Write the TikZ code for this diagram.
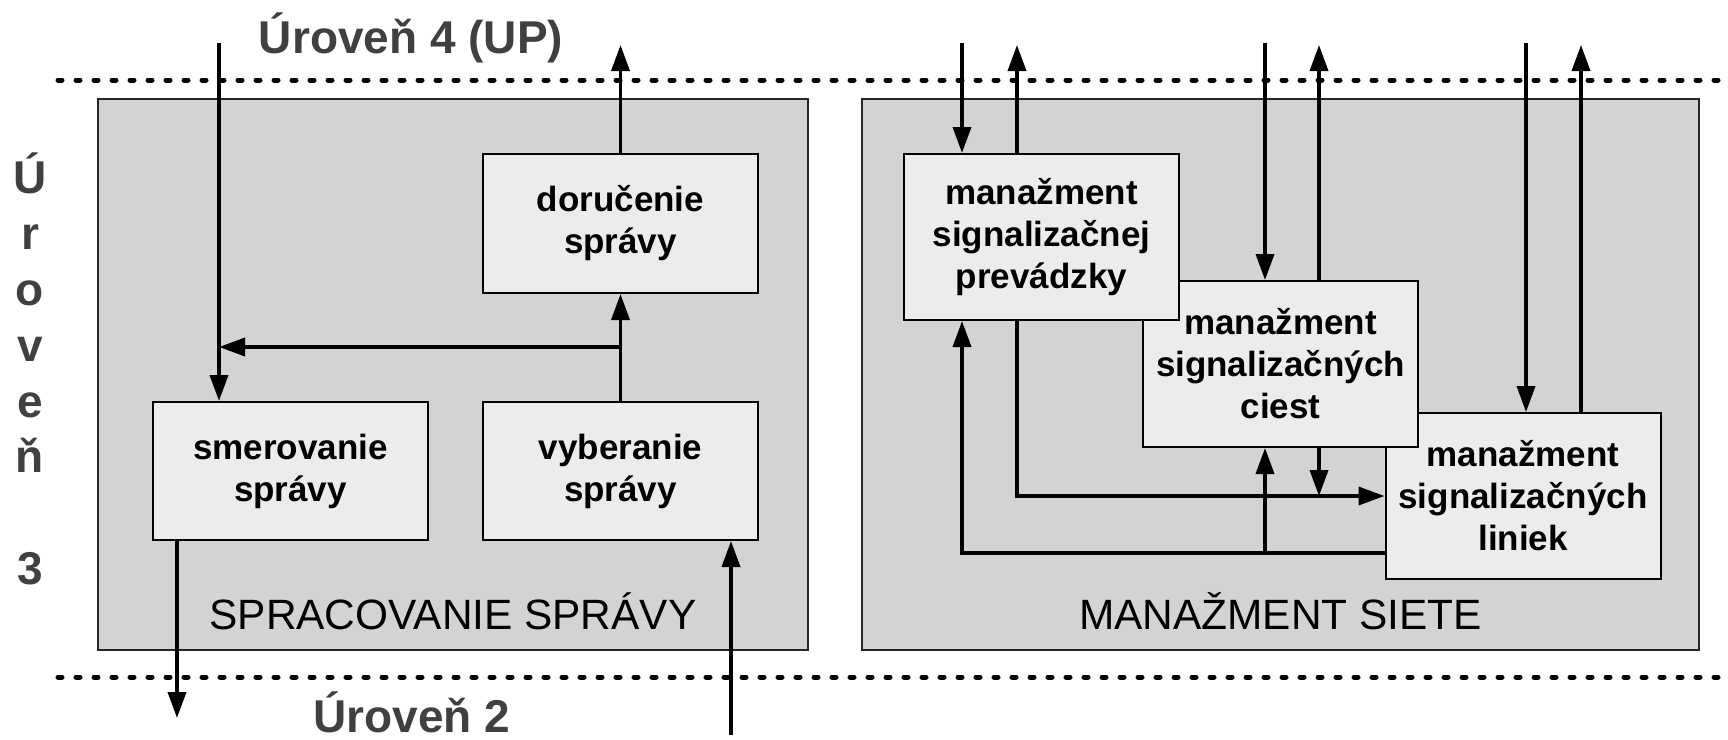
\documentclass[tikz,border=0pt]{standalone}
\usepackage{fontspec}
\setmainfont{Liberation Sans}
\usepackage{tikz}
\usetikzlibrary{arrows.meta}
\definecolor{outerfill}{RGB}{211,211,211}
\definecolor{innerfill}{RGB}{236,236,236}
\definecolor{lvlgray}{RGB}{64,64,64}
\tikzstyle{group} = [rectangle, draw=black!85, line width=1pt, fill=outerfill, inner sep=0pt]
\tikzstyle{block} = [rectangle, minimum width=137.5pt, draw=black, line width=1pt, fill=innerfill, align=center, inner sep=0pt, font=\fontsize{17.5}{21}\selectfont\bfseries]
\tikzstyle{grouptitle} = [font=\fontsize{21.2}{25}\selectfont]
\tikzstyle{lvltext} = [text=lvlgray, font=\fontsize{23}{27.9}\selectfont\bfseries]
\tikzstyle{layerline} = [line width=2.5pt, dash pattern=on 2pt off 7pt, line cap=round]
\tikzstyle{arrow} = [-{Triangle[length=13pt, width=9pt]}, line width=1.8pt]

\begin{document}
\begin{tikzpicture}[x=0.5pt, y=-0.5pt]

    \useasboundingbox (0, 0) rectangle (1728, 739);

    \node (proc) [group, minimum width=355pt, minimum height=275.5pt] at (453, 374.5) {};
    \node (mgmt) [group, minimum width=418.5pt, minimum height=275.5pt] at (1280.5, 374.5) {};
    \node (proctitle) [grouptitle, anchor=base] at (453, 629) {SPRACOVANIE SPRÁVY};
    \node (mgmttitle) [grouptitle, anchor=base] at (1280.5, 629) {MANAŽMENT SIETE};

    \draw [layerline] (58, 80) -- (1722, 80);
    \draw [layerline] (58, 677) -- (1722, 677);

    \node (lvl4) [lvltext, anchor=base] at (411, 53) {Úroveň 4 (UP)};
    \node (lvl2) [lvltext, anchor=base] at (412, 732) {Úroveň 2};
    \node (lvl3) [lvltext, align=center] at (30, 369) {Ú\\r\\o\\v\\e\\ň\\[27.9pt]3};

    \node (deliv) [block, minimum height=69.5pt] at (620.5, 223.5) {doručenie\\správy};
    \node (route) [block, minimum height=69pt] at (290.5, 471) {smerovanie\\správy};
    \node (pick) [block, minimum height=69pt] at (620.5, 471) {vyberanie\\správy};
    \node (msl) [block, minimum height=83pt] at (1523, 496) {manažment\\signalizačných\\liniek};
    \node (msc) [block, minimum height=83pt] at (1280.5, 364) {manažment\\signalizačných\\ciest};
    \node (msp) [block, minimum height=83pt] at (1041.5, 237) {manažment\\signalizačnej\\prevádzky};

    \coordinate (in4) at (219, 43);
    \coordinate (out4) at (620.5, 45);
    \coordinate (fork) at (620.5, 347);
    \coordinate (out2) at (177, 718);
    \coordinate (in2) at (731, 735);

    \draw [arrow] (in4) -- (in4 |- route.north);
    \draw [arrow] (deliv.north) -- (out4);
    \draw [arrow] (pick.north) -- (deliv.south);
    \draw [arrow] (fork) -- (fork -| in4);
    \draw [arrow] (route.south -| out2) -- (out2);
    \draw [arrow] (in2) -- (in2 |- pick.south);

    \coordinate (in4a) at (962, 43);
    \coordinate (out4a) at (1017, 45);
    \coordinate (in4b) at (1265, 43);
    \coordinate (out4b) at (1319, 45);
    \coordinate (in4c) at (1526, 43);
    \coordinate (out4c) at (1581, 45);

    \draw [arrow] (in4a) -- (in4a |- msp.north);
    \draw [arrow] (out4a |- msp.north) -- (out4a);
    \draw [arrow] (in4b) -- (in4b |- msc.north);
    \draw [arrow] (out4b |- msc.north) -- (out4b);
    \draw [arrow] (in4c) -- (in4c |- msl.north);
    \draw [arrow] (out4c |- msl.north) -- (out4c);

    \draw [arrow] (out4a |- msp.south) |- (msl.west);
    \draw [arrow] (out4b |- msc.south) -- (out4b |- msl.west);
    \draw [arrow] (msl.west |- 0,553) -| (in4a |- msp.south);
    \draw [arrow] (in4b |- 0,553) -- (in4b |- msc.south);

\end{tikzpicture}
\end{document}
